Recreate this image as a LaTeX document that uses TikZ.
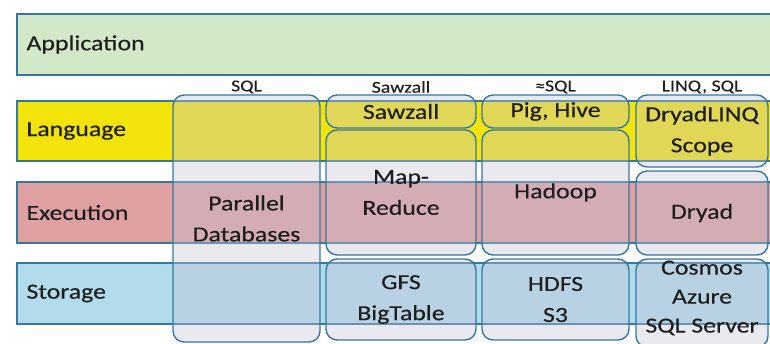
\documentclass[tikz,border=0pt]{standalone}
\usepackage{fontspec}
\setmainfont{Carlito}[FakeStretch=1.2,FakeBold=0.4]
\usepackage{tikz}

\definecolor{edgeblue}{RGB}{52,120,160}
\definecolor{appgreen}{RGB}{210,232,200}
\definecolor{langyellow}{RGB}{242,228,10}
\definecolor{execred}{RGB}{222,160,160}
\definecolor{storeblue}{RGB}{178,220,235}
\definecolor{colgray}{RGB}{196,196,214}
\definecolor{inkgray}{RGB}{30,30,30}

\begin{document}
\begin{tikzpicture}[x=1pt,y=-1pt,
    band/.style={draw=edgeblue, line width=1.4pt, rectangle, minimum width=758pt, minimum height=61pt, inner sep=0pt},
    layertext/.style={anchor=west, text=inkgray, font=\fontsize{21.5}{31}\selectfont, inner sep=0pt},
    colbox/.style={draw=edgeblue, line width=1.4pt, rounded corners=11pt, fill=colgray, fill opacity=0.38, text opacity=1,
        text=inkgray, align=center, font=\fontsize{21.5}{31}\selectfont, inner sep=0pt},
    tag/.style={text=inkgray, font=\fontsize{16.5}{18}\selectfont, inner sep=0pt}]
        \clip (0,0) rectangle (770,343);
        % layers
        \node[band, fill=appgreen] (application) at (396,44.5) {};
        \node[layertext] (applicationtext) at ([xshift=10pt]application.west) {Application};
        \node[band, fill=langyellow, minimum height=60pt] (language) at (396,131) {};
        \node[layertext] (languagetext) at ([xshift=10pt]language.west) {Language};
        \node[band, fill=execred] (execution) at (396,212.5) {};
        \node[layertext] (executiontext) at ([xshift=10pt]execution.west) {Execution};
        \node[band, fill=storeblue] (storage) at (396,293.5) {};
        \node[layertext] (storagetext) at ([xshift=10pt]storage.west) {Storage};
        % stacks
        \node[colbox, minimum width=147pt, minimum height=247pt] (pardb) at (246.5,218.5) {Parallel\\Databases};
        \node[colbox, minimum width=150pt, minimum height=33pt] (sawzall) at (401,111.5) {Sawzall};
        \node[colbox, minimum width=150pt, minimum height=125pt] (mapreduce) at (401,192.5) {Map-\\Reduce};
        \node[colbox, minimum width=150pt, minimum height=81pt] (gfs) at (401,299.5) {GFS\\BigTable};
        \node[colbox, minimum width=147pt, minimum height=33pt] (pighive) at (555.5,111.5) {Pig, Hive};
        \node[colbox, minimum width=147pt, minimum height=125pt] (hadoop) at (555.5,192.5) {Hadoop};
        \node[colbox, minimum width=147pt, minimum height=81pt] (hdfs) at (555.5,299.5) {HDFS\\S3};
        \node[colbox, minimum width=132pt, minimum height=72pt] (dryadlinq) at (702,131) {DryadLINQ\\Scope};
        \node[colbox, minimum width=132pt, minimum height=84pt] (dryad) at (702,213) {Dryad};
        \node[colbox, minimum width=132pt, minimum height=88pt] (cosmos) at (702,303) {};
        \node[text=inkgray, align=center, font=\fontsize{21.5}{29}\selectfont, inner sep=0pt] (cosmostext) at (702,298) {Cosmos\\Azure\\SQL Server};
        % query languages
        \node[tag] (sqltag) at (pardb.north |- 0,87) {SQL};
        \node[tag] (sawzalltag) at (sawzall.north |- 0,87) {Sawzall};
        \node[tag] (approxtag) at (pighive.north |- 0,87) {≈SQL};
        \node[tag] (linqtag) at (dryadlinq.north |- 0,87) {LINQ, SQL};
    \end{tikzpicture}
\end{document}
